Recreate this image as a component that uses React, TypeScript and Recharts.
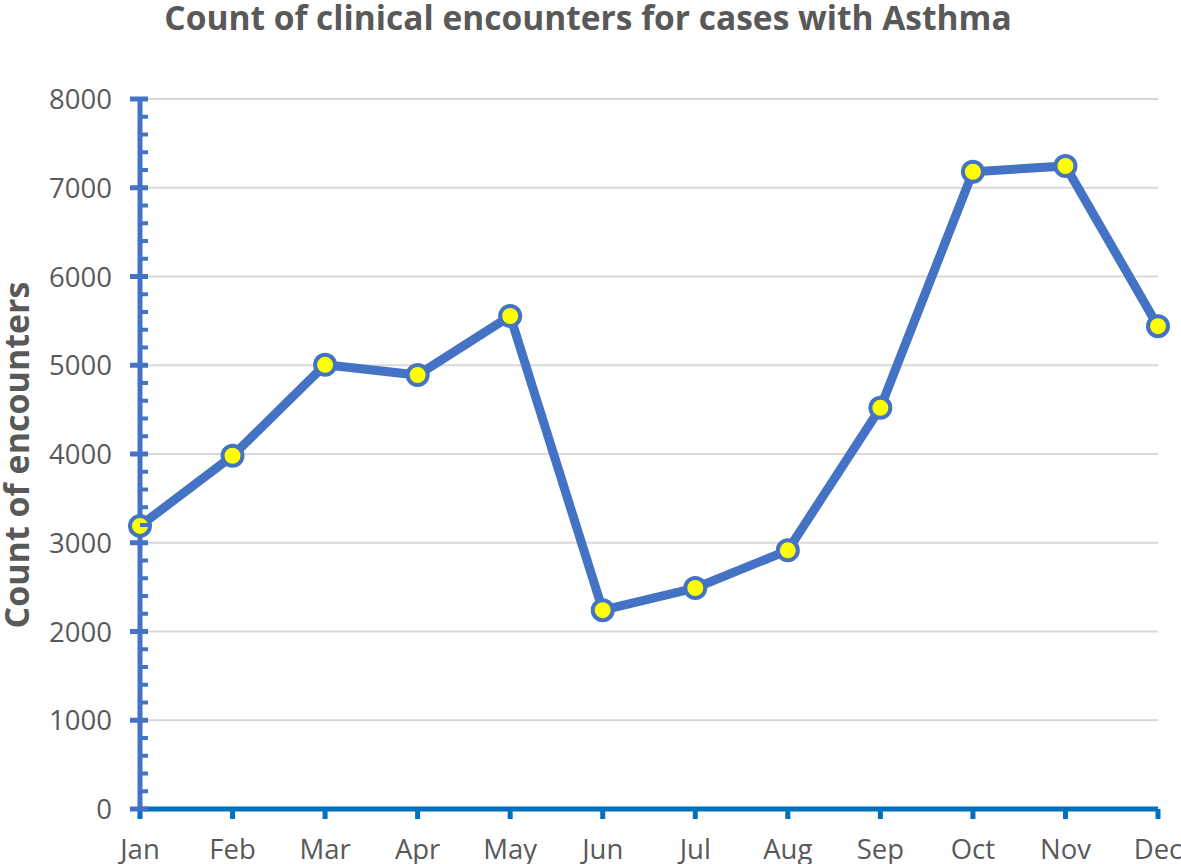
import React from 'react';
import { LineChart, Line, XAxis, YAxis, CartesianGrid } from 'recharts';

const months = ['Jan', 'Feb', 'Mar', 'Apr', 'May', 'Jun', 'Jul', 'Aug', 'Sep', 'Oct', 'Nov', 'Dec'];
const encounters = [3190, 3980, 5005, 4890, 5555, 2240, 2490, 2915, 4520, 7180, 7245, 5440];
const majorTicks = [0, 1000, 2000, 3000, 4000, 5000, 6000, 7000, 8000];
const minorStep = 200;

const data = months.map((m, i) => ({ month: m, count: encounters[i] }));
const allTicks: number[] = [];
for (let v = 0; v <= 8000; v += minorStep) allTicks.push(v);

const FONT = '"Open Sans", sans-serif';
const GREY = '#595959';
const LINE_BLUE = '#4472C4';
const AXIS_BLUE = '#0070C0';

const YTick = (props: any) => {
  const { x, y, payload } = props;
  const v = payload.value as number;
  const major = v % 1000 === 0;
  return (
    <g>
      {major ? (
        <>
          <line x1={x - 10} x2={x + 8} y1={y} y2={y} stroke={LINE_BLUE} strokeWidth={5} />
          <text x={x - 28} y={y} dy={10} textAnchor="end" fill={GREY} fontSize={27.5} fontFamily={FONT}>
            {v}
          </text>
        </>
      ) : (
        <line x1={x} x2={x + 8} y1={y} y2={y} stroke={LINE_BLUE} strokeWidth={4} />
      )}
    </g>
  );
};

const XTick = (props: any) => {
  const { x, y, payload } = props;
  return (
    <g>
      <line x1={x} x2={x} y1={y} y2={y + 10} stroke={AXIS_BLUE} strokeWidth={5} />
      <text x={x} y={y + 50} textAnchor="middle" fill={GREY} fontSize={27.5} fontFamily={FONT}>
        {payload.value}
      </text>
    </g>
  );
};

export default function App() {
  return (
    <div style={{ position: 'absolute', left: 0, top: 0, width: 1181, height: 864, background: '#fff' }}>
      <LineChart
        width={1181}
        height={864}
        data={data}
        margin={{ top: 99, right: 23, bottom: 0, left: 0 }}
      >
        <CartesianGrid
          vertical={false}
          horizontalValues={majorTicks}
          stroke="#D9D9D9"
          strokeWidth={2}
        />
        <XAxis
          dataKey="month"
          scale="point"
          padding={{ left: 0, right: 0 }}
          height={55}
          axisLine={{ stroke: AXIS_BLUE, strokeWidth: 5 }}
          tickLine={false}
          tickSize={0}
          tickMargin={0}
          tick={<XTick />}
          interval={0}
        />
        <YAxis
          width={140}
          domain={[0, 8000]}
          ticks={allTicks}
          interval={0}
          axisLine={{ stroke: LINE_BLUE, strokeWidth: 5 }}
          tickLine={false}
          tickSize={0}
          tickMargin={0}
          tick={<YTick />}
        />
        <Line
          type="linear"
          dataKey="count"
          stroke={LINE_BLUE}
          strokeWidth={9}
          dot={{ r: 10, fill: '#FFFF00', stroke: LINE_BLUE, strokeWidth: 4 }}
          activeDot={false}
          isAnimationActive={false}
        />
        <text x={588} y={30} textAnchor="middle" fill={GREY} fontSize={33.5} fontWeight="bold" fontFamily={FONT}>
          Count of clinical encounters for cases with Asthma
        </text>
        <text
          x={0}
          y={0}
          transform="translate(29, 455) rotate(-90)"
          textAnchor="middle"
          fill={GREY}
          fontSize={34}
          fontWeight="bold"
          fontFamily={FONT}
        >
          Count of encounters
        </text>
      </LineChart>
    </div>
  );
}
